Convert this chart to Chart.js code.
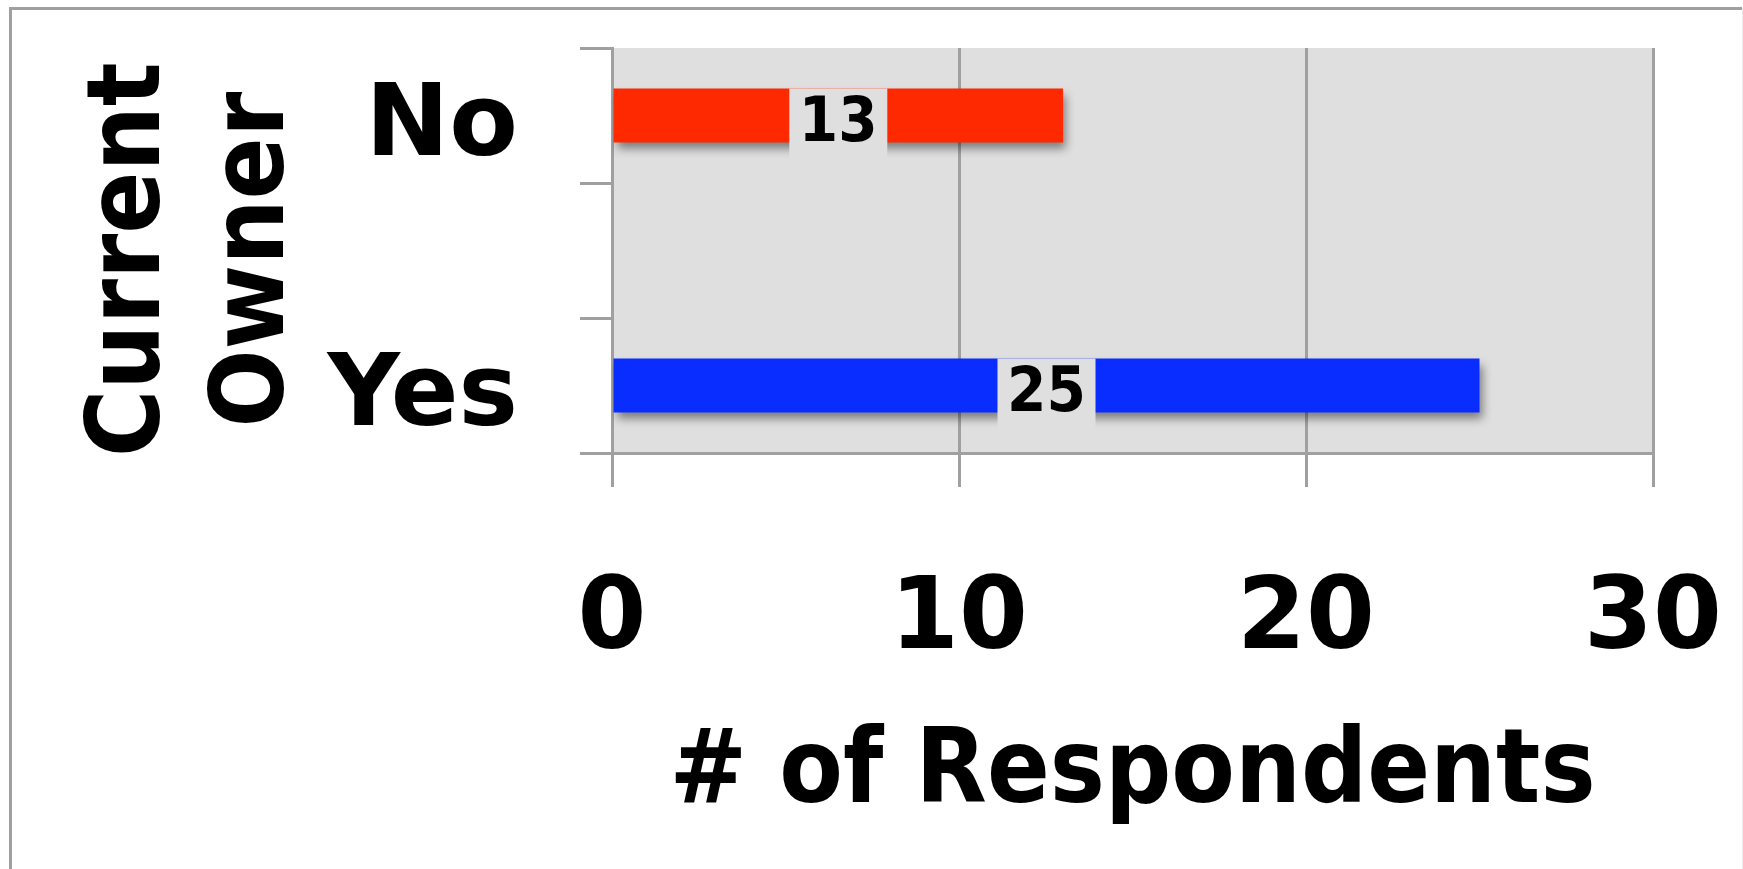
<!DOCTYPE html>
<html>
<head>
<meta charset="utf-8">
<script src="https://cdn.jsdelivr.net/npm/chart.js@4/dist/chart.umd.min.js"></script>
<style>
  html, body { margin: 0; padding: 0; background: #fff; }
  #wrap { width: 1743px; height: 869px; }
</style>
</head>
<body>
<div id="wrap"><canvas id="ownerChart" width="1743" height="869"></canvas></div>
<script>
// data
const categories = ['No', '', 'Yes'];
const respondents = [13, null, 25];
const barColors = ['#ff2900', '#0a2dff', '#0a2dff'];
const xTickValues = [0, 10, 20, 30];
const yTitle = ['Current\u2009', 'Owner\u2009'];
const xTitle = '# of Respondents';

const FONT = "'DejaVu Sans', Verdana, sans-serif";
const FONT_NARROW = "'DejaVu Sans Condensed', 'DejaVu Sans', Verdana, sans-serif";
const GRID = '#a0a0a0';

// grey frame + plot background
const backdrop = {
  id: 'backdrop',
  beforeDraw(chart) {
    const { ctx, chartArea: a } = chart;
    ctx.save();
    ctx.fillStyle = '#ffffff';
    ctx.fillRect(0, 0, chart.width, chart.height);
    ctx.strokeStyle = GRID;
    ctx.lineWidth = 3;
    ctx.beginPath();
    ctx.moveTo(10.5, chart.height);
    ctx.lineTo(10.5, 8.5);
    ctx.lineTo(chart.width - 1, 8.5);
    ctx.stroke();
    ctx.strokeStyle = '#ececec';
    ctx.lineWidth = 1;
    ctx.beginPath();
    ctx.moveTo(chart.width - 0.5, 8);
    ctx.lineTo(chart.width - 0.5, chart.height);
    ctx.stroke();
    ctx.fillStyle = '#dfdfdf';
    ctx.fillRect(a.left, a.top, a.right - a.left, a.bottom - a.top);
    ctx.restore();
  }
};

// soft drop shadow under the bars
const barShadow = {
  id: 'barShadow',
  beforeDatasetsDraw(chart) {
    const ctx = chart.ctx;
    ctx.save();
    ctx.shadowColor = 'rgba(0,0,0,0.45)';
    ctx.shadowBlur = 9;
    ctx.shadowOffsetX = 3;
    ctx.shadowOffsetY = 6;
  },
  afterDatasetsDraw(chart) {
    chart.ctx.restore();
  }
};

// value label in a grey box in the middle of each bar
const valueLabels = {
  id: 'valueLabels',
  afterDatasetsDraw(chart) {
    const ctx = chart.ctx;
    const meta = chart.getDatasetMeta(0);
    ctx.save();
    meta.data.forEach((bar, i) => {
      const v = respondents[i];
      if (v === null || v === undefined) return;
      const cx = (bar.x + bar.base) / 2;
      ctx.fillStyle = '#dfdfdf';
      ctx.fillRect(cx - 49, bar.y - 27, 98, 70);
      ctx.fillStyle = '#000';
      ctx.font = 'bold 63px ' + FONT_NARROW;
      ctx.textAlign = 'center';
      ctx.textBaseline = 'middle';
      ctx.fillText(String(v), cx, bar.y + 9);
    });
    ctx.restore();
  }
};

function noEdgePadding(scale) {
  scale.paddingTop = 0;
  scale.paddingBottom = 0;
  scale.paddingLeft = 0;
  scale.paddingRight = 0;
}

new Chart(document.getElementById('ownerChart').getContext('2d'), {
  type: 'bar',
  data: {
    labels: categories,
    datasets: [{
      data: respondents,
      backgroundColor: barColors,
      borderWidth: 0,
      barPercentage: 0.4,
      categoryPercentage: 1.0
    }]
  },
  options: {
    indexAxis: 'y',
    responsive: false,
    animation: false,
    devicePixelRatio: 1,
    layout: { padding: { top: 48, right: 90, left: 0, bottom: 0 } },
    plugins: {
      legend: { display: false },
      tooltip: { enabled: false }
    },
    scales: {
      x: {
        min: 0,
        max: 30,
        afterFit(scale) { scale.height = 416; noEdgePadding(scale); },
        afterBuildTicks(scale) { scale.ticks = xTickValues.map(v => ({ value: v })); },
        grid: { color: GRID, lineWidth: 3, tickLength: 34, drawOnChartArea: true },
        border: { color: GRID, width: 3 },
        ticks: {
          color: '#000',
          padding: 76,
          autoSkip: false,
          maxRotation: 0,
          font: { family: FONT, size: 99, weight: 'bold' }
        },
        title: {
          display: true,
          text: xTitle,
          color: '#000',
          font: { family: FONT_NARROW, size: 103, weight: 'bold', lineHeight: 1.2 },
          padding: { top: 0, bottom: 32 }
        }
      },
      y: {
        afterFit(scale) { scale.width = 612; noEdgePadding(scale); },
        grid: { color: GRID, lineWidth: 3, tickLength: 32, drawOnChartArea: false, offset: true },
        border: { color: GRID, width: 3 },
        ticks: {
          color: '#000',
          padding: 62,
          autoSkip: false,
          labelOffset: 14,
          font: { family: FONT, size: 100, weight: 'bold' }
        },
        title: {
          display: true,
          text: yTitle,
          color: '#000',
          font: { family: FONT_NARROW, size: 102, weight: 'bold', lineHeight: 1.22 },
          padding: { top: 70, bottom: 0 }
        }
      }
    }
  },
  plugins: [backdrop, barShadow, valueLabels]
});
</script>
</body>
</html>
